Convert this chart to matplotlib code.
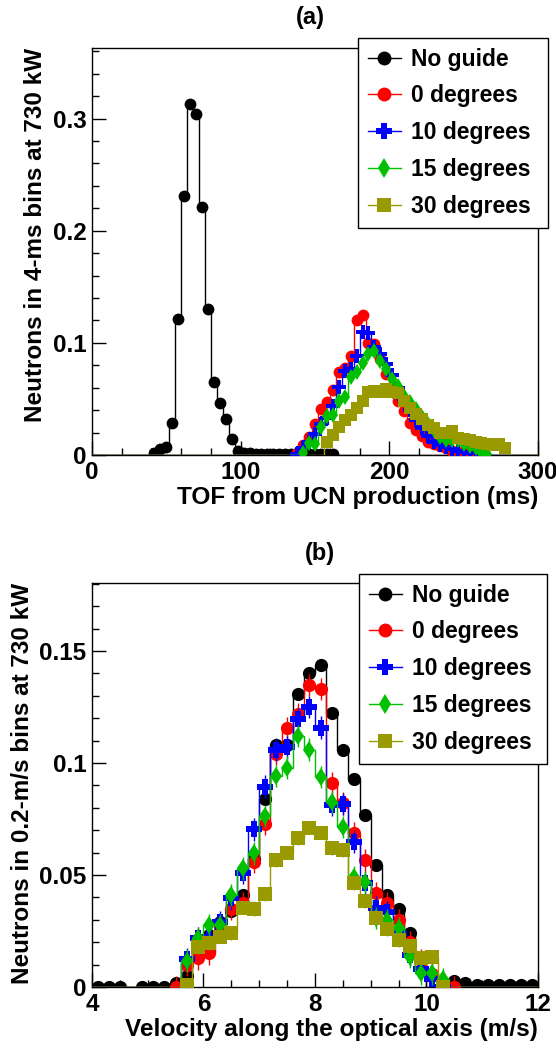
import numpy as np
import matplotlib
matplotlib.use("Agg")
import matplotlib.pyplot as plt
from matplotlib.lines import Line2D
from matplotlib.patches import Rectangle
from matplotlib.ticker import MultipleLocator, FuncFormatter

plt.rcParams['font.family'] = ['Liberation Sans', 'DejaVu Sans']
plt.rcParams['font.weight'] = 'bold'
plt.rcParams['axes.labelweight'] = 'bold'

# series names and styles
names = ['No guide', '0 degrees', '10 degrees', '15 degrees', '30 degrees']
colors = ['black', '#ff0000', '#0000ff', '#00c000', '#999900']
markers = ['o', 'o', 'P', 'd', 's']

# (a) TOF histograms, 4-ms bins from 0 to 300 ms
tof_bin = 4
tof_max = 300
tof_start = [42, 138, 138, 142, 158]   # centre of first listed bin
tof_black = [0.002, 0.005, 0.007, 0.029, 0.121, 0.231, 0.313, 0.304, 0.221, 0.130,
             0.065, 0.046, 0.032, 0.014, 0.004, 0.002, 0.002, 0.001, 0.001, 0.001,
             0.001, 0.001, 0.001, 0.001, 0.001, 0.001, 0.001, 0.001, 0.001, 0.001, 0.001]
tof_0deg = [0.002, 0.009, 0.016, 0.028, 0.041, 0.047, 0.058, 0.074, 0.078, 0.088,
            0.120, 0.125, 0.100, 0.099, 0.086, 0.072, 0.060, 0.048, 0.039, 0.029,
            0.022, 0.017, 0.012, 0.010, 0.008, 0.006, 0.004, 0.003, 0.002, 0.0015, 0.001]
tof_10deg = [0.001, 0.006, 0.012, 0.019, 0.028, 0.033, 0.044, 0.061, 0.075, 0.077,
             0.088, 0.110, 0.109, 0.096, 0.090, 0.081, 0.071, 0.060, 0.050, 0.040,
             0.031, 0.024, 0.017, 0.012, 0.009, 0.007, 0.005, 0.004, 0.003, 0.002,
             0.002, 0.001]
tof_15deg = [0.0015, 0.011, 0.010, 0.025, 0.035, 0.036, 0.048, 0.052, 0.070, 0.074,
             0.082, 0.090, 0.093, 0.084, 0.077, 0.068, 0.062, 0.053, 0.047, 0.041,
             0.034, 0.028, 0.022, 0.016, 0.013, 0.013, 0.013, 0.010, 0.008, 0.006,
             0.003, 0.001]
tof_30deg = [0.012, 0.018, 0.025, 0.031, 0.036, 0.042, 0.048, 0.056, 0.057, 0.056,
             0.059, 0.056, 0.055, 0.048, 0.042, 0.037, 0.032, 0.027, 0.024, 0.020,
             0.020, 0.021, 0.015, 0.014, 0.013, 0.012, 0.011, 0.010, 0.009, 0.010, 0.006]
tof_series = [tof_black, tof_0deg, tof_10deg, tof_15deg, tof_30deg]

# (b) velocity histograms, 0.2-m/s bins from 4 to 12 m/s
vel_bin = 0.2
vel_min, vel_max = 4.0, 12.0
vel_start = [4.1, 5.5, 5.7, 5.7, 5.7]
vel_black = [0.0, 0.0, 0.0, np.nan, 0.0, 0.0, 0.0, 0.002, 0.005, 0.015,
             0.023, 0.029, 0.034, 0.041, 0.057, 0.084, 0.108, 0.108, 0.131, 0.140,
             0.144, 0.1225, 0.106, 0.093, 0.077, 0.0545, 0.041, 0.035, 0.024, 0.012,
             np.nan, np.nan, 0.0027, 0.002, 0.001, 0.001, 0.0008, 0.001, 0.001, 0.001]
vel_0deg = [0.0, 0.0098, 0.0128, 0.015, 0.027, 0.035, 0.0374, 0.056, 0.073, 0.104,
            0.1155, 0.122, 0.1348, 0.133, 0.0912, 0.082, 0.0688, 0.0565, 0.042, 0.0376,
            0.030, 0.020, 0.012, 0.006, 0.002, 0.0]
vel_10deg = [0.0124, 0.0217, 0.0225, 0.029, 0.0396, 0.0508, 0.0704, 0.0895, 0.106, 0.107,
             0.1195, 0.125, 0.1158, 0.0813, 0.0816, 0.0647, 0.0463, 0.0355, 0.0335, 0.024,
             0.0145, 0.008, 0.0037, 0.0]
vel_15deg = [0.0118, 0.0217, 0.0277, 0.0277, 0.041, 0.053, 0.0597, 0.0763, 0.0942, 0.098,
             0.112, 0.106, 0.0939, 0.0827, 0.0715, 0.049, 0.047, 0.0307, 0.030, 0.0262,
             0.0135, 0.0061, 0.0061, 0.0034]
vel_30deg = [0.001, 0.0177, 0.0195, 0.0225, 0.024, 0.0354, 0.0348, 0.0415, 0.0567, 0.060,
             0.0665, 0.0712, 0.0689, 0.062, 0.0612, 0.0463, 0.0383, 0.031, 0.0258, 0.021,
             0.0183, 0.0128, 0.0135, 0.0]
vel_series = [vel_black, vel_0deg, vel_10deg, vel_15deg, vel_30deg]
vel_err = [0.001, 0.005, 0.005, 0.005, 0.003]

W, H = 556, 1048


def draw_panel(ax, series, starts, width, lo, hi, msize, errs=None):
    edges = np.arange(lo, hi + width / 2, width)
    centres = edges[:-1] + width / 2
    for i, vals in enumerate(series):
        vals = np.array(vals, dtype=float)
        i0 = int(round((starts[i] - lo - width / 2) / width))
        full = np.zeros(len(centres))
        full[i0:i0 + len(vals)] = np.nan_to_num(vals)
        ax.stairs(full, edges, color=colors[i], lw=1.0, zorder=2 + i)
        ms = msize * (1.25 if markers[i] == 'P' else 1.0)
        yerr = None if errs is None else errs[i]
        ax.errorbar(centres[i0:i0 + len(vals)], vals, yerr=yerr, fmt=markers[i],
                    color=colors[i], ms=ms, mew=0, elinewidth=1.0, capsize=0,
                    zorder=2.5 + i)


def style_axes(ax, xmaj, xmin, ymaj, ymin):
    ax.xaxis.set_major_locator(MultipleLocator(xmaj))
    ax.xaxis.set_minor_locator(MultipleLocator(xmin))
    ax.yaxis.set_major_locator(MultipleLocator(ymaj))
    ax.yaxis.set_minor_locator(MultipleLocator(ymin))
    fmt = FuncFormatter(lambda v, p: f'{v:g}')
    ax.xaxis.set_major_formatter(fmt)
    ax.yaxis.set_major_formatter(fmt)
    ax.tick_params(which='both', direction='in', top=False, right=False,
                   labelsize=17.5, width=1)
    ax.tick_params(which='major', length=10, pad=4)
    ax.tick_params(which='minor', length=5)
    for s in ax.spines.values():
        s.set_linewidth(1)


def legend(fig, left, top, right, bottom):
    # box drawn by hand so the padding can match the original
    fig.add_artist(Rectangle((left / W, 1 - bottom / H), (right - left) / W,
                             (bottom - top) / H, transform=fig.transFigure,
                             facecolor='white', edgecolor='black', lw=1, zorder=4.9))
    handles = [Line2D([], [], color=colors[i], marker=markers[i], lw=1,
                      ms=10 if markers[i] != 'P' else 11, mew=0)
               for i in range(len(names))]
    fig.legend(handles, names, loc='upper left', bbox_to_anchor=(left / W, 1 - top / H),
               borderaxespad=0, fontsize=16.5, frameon=False, handlelength=1.45,
               handletextpad=0.45, labelspacing=0.6, borderpad=0.42)


fig = plt.figure(figsize=(W / 100, H / 100), dpi=100)

ax1 = fig.add_axes([0.1655, 0.5658, 0.802, 0.3884])
draw_panel(ax1, tof_series, tof_start, tof_bin, 0, tof_max, 8.5)
ax1.set_xlim(0, tof_max)
ax1.set_ylim(0, 0.363)
style_axes(ax1, 100, 20, 0.1, 0.02)
ax1.set_xlabel('TOF from UCN production (ms)', fontsize=17.6, loc='right', labelpad=2)
ax1.set_ylabel('Neutrons in 4-ms bins at 730 kW', fontsize=17.5, loc='top', labelpad=4)
fig.text(0.559, 0.983, '(a)', fontsize=17, ha='center', va='center')
legend(fig, 358, 38, 548, 228)

ax2 = fig.add_axes([0.1655, 0.0582, 0.802, 0.3855])
draw_panel(ax2, vel_series, vel_start, vel_bin, vel_min, vel_max, 9.5, vel_err)
ax2.set_xlim(vel_min, vel_max)
ax2.set_ylim(0, 0.1804)
style_axes(ax2, 2, 0.5, 0.05, 0.01)
ax2.set_xlabel('Velocity along the optical axis (m/s)', fontsize=17.6, loc='right', labelpad=2)
ax2.set_ylabel('Neutrons in 0.2-m/s bins at 730 kW', fontsize=17.5, loc='top', labelpad=4)
fig.text(0.576, 0.472, '(b)', fontsize=17, ha='center', va='center')
legend(fig, 359, 574, 547, 764)

fig.savefig('out.png', dpi=100)
